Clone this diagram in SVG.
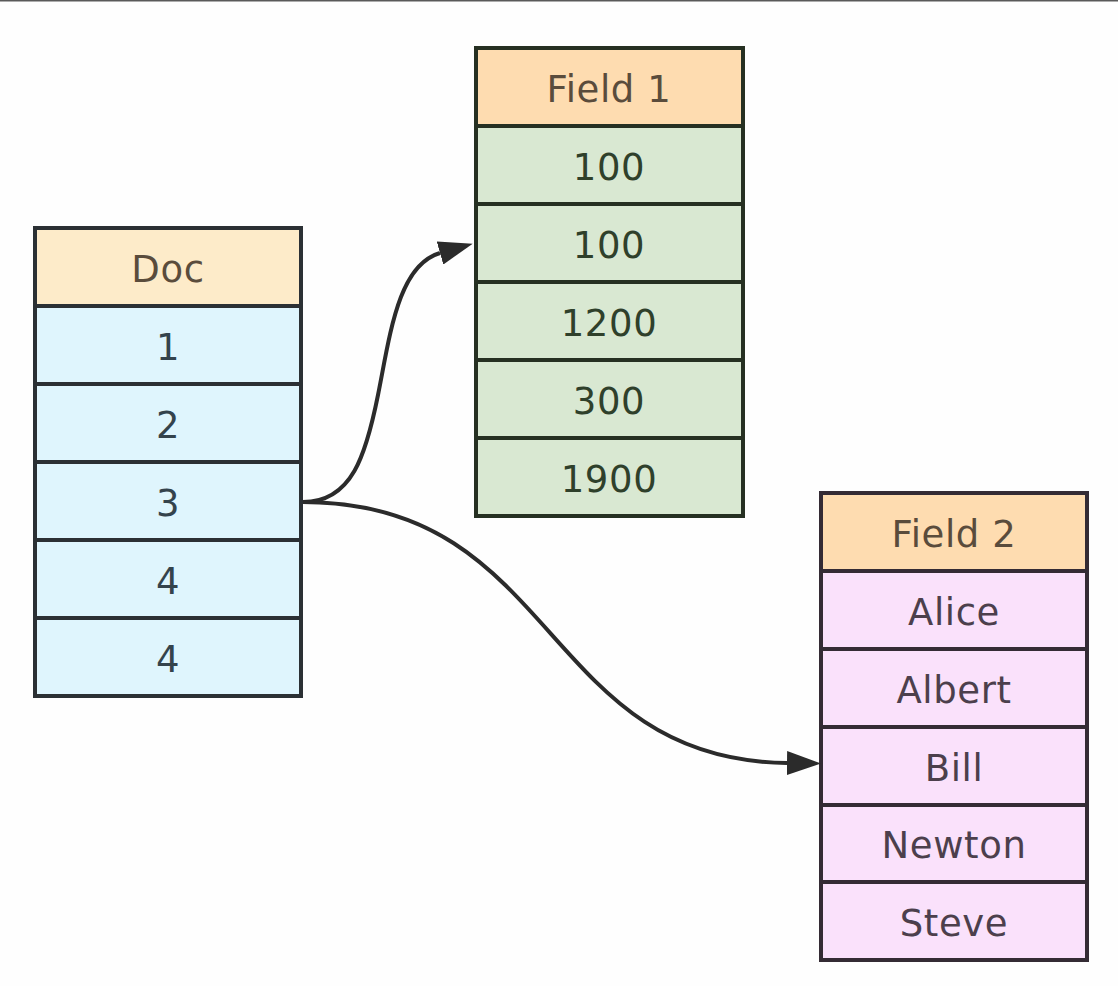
<svg xmlns="http://www.w3.org/2000/svg" width="1118" height="986" viewBox="0 0 1118 986">
<style>
text{font-family:"DejaVu Sans","Liberation Sans",sans-serif;font-size:37px;text-anchor:middle;letter-spacing:0.6px}
.cell{stroke-width:4}
.hd{fill:#fedcb0}
.hdDoc{fill:#fdebc9}
.doc{fill:#dff5fd}
.f1{fill:#d9e8d2}
.f2{fill:#fae1fb}
.sDoc{stroke:#2b3034}
.sF1{stroke:#263022}
.sF2{stroke:#342b34}
.tHd{fill:#5a4c3c}
.tDoc{fill:#34434c}
.tF1{fill:#2f402b}
.tF2{fill:#4c3f4c}
.conn{fill:none;stroke:#2b2b2b;stroke-width:4}
</style>
<defs>
<marker id="arr" viewBox="0 0 34 24" markerWidth="34" markerHeight="24" refX="0" refY="12" orient="auto" markerUnits="userSpaceOnUse">
<path d="M0,0 L34,12 L0,24 z" fill="#2b2b2b"/>
</marker>
</defs>
<rect x="0" y="0" width="1118" height="986" fill="#fefefe"/>
<rect x="0" y="0" width="1118" height="1.5" fill="#5a5a5a"/>

<g id="doc">
<rect class="cell hdDoc sDoc" x="35" y="228" width="266" height="78"/>
<rect class="cell doc sDoc" x="35" y="306" width="266" height="78"/>
<rect class="cell doc sDoc" x="35" y="384" width="266" height="78"/>
<rect class="cell doc sDoc" x="35" y="462" width="266" height="78"/>
<rect class="cell doc sDoc" x="35" y="540" width="266" height="78"/>
<rect class="cell doc sDoc" x="35" y="618" width="266" height="78"/>
<text class="tHd" x="168" y="282">Doc</text>
<text class="tDoc" x="168" y="360">1</text>
<text class="tDoc" x="168" y="438">2</text>
<text class="tDoc" x="168" y="516">3</text>
<text class="tDoc" x="168" y="594">4</text>
<text class="tDoc" x="168" y="672">4</text>
</g>

<g id="field1">
<rect class="cell hd sF1" x="476" y="48" width="267" height="78"/>
<rect class="cell f1 sF1" x="476" y="126" width="267" height="78"/>
<rect class="cell f1 sF1" x="476" y="204" width="267" height="78"/>
<rect class="cell f1 sF1" x="476" y="282" width="267" height="78"/>
<rect class="cell f1 sF1" x="476" y="360" width="267" height="78"/>
<rect class="cell f1 sF1" x="476" y="438" width="267" height="78"/>
<text class="tHd" x="609" y="102">Field 1</text>
<text class="tF1" x="609" y="180">100</text>
<text class="tF1" x="609" y="258">100</text>
<text class="tF1" x="609" y="336">1200</text>
<text class="tF1" x="609" y="414">300</text>
<text class="tF1" x="609" y="492">1900</text>
</g>

<g id="field2">
<rect class="cell hd sF2" x="821" y="493" width="266" height="78"/>
<rect class="cell f2 sF2" x="821" y="571" width="266" height="78"/>
<rect class="cell f2 sF2" x="821" y="649" width="266" height="78"/>
<rect class="cell f2 sF2" x="821" y="727" width="266" height="78"/>
<rect class="cell f2 sF2" x="821" y="805" width="266" height="77"/>
<rect class="cell f2 sF2" x="821" y="882" width="266" height="78"/>
<text class="tHd" x="954" y="547">Field 2</text>
<text class="tF2" x="954" y="625">Alice</text>
<text class="tF2" x="954" y="703">Albert</text>
<text class="tF2" x="954" y="781">Bill</text>
<text class="tF2" x="954" y="858">Newton</text>
<text class="tF2" x="954" y="936">Steve</text>
</g>

<g id="connectors">
<path class="conn" marker-end="url(#arr)" d="M303,502 C352,502 366,455 378,395 C390,335 398,265 440,253"/>
<path class="conn" marker-end="url(#arr)" d="M303,502 C560,502 540,760 787,763"/>
</g>
</svg>
